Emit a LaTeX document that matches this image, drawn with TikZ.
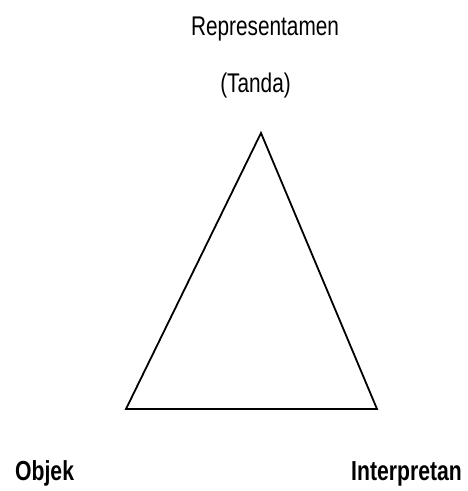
\documentclass[tikz,border=0pt]{standalone}
\usepackage{fontspec}
\setmainfont{Liberation Sans}[FakeStretch=0.77]
\begin{document}
\begin{tikzpicture}[x=1pt,y=1pt,
  lbl/.style={inner sep=0pt,anchor=base,font=\fontsize{27}{30}\selectfont},
  lblb/.style={lbl,font=\fontsize{27.5}{30}\selectfont\bfseries},
  tri/.style={line width=1.8pt,line join=miter}]
\useasboundingbox (0,0) rectangle (467,491);
\coordinate (top) at (261,358);
\coordinate (bl) at (126,82);
\coordinate (br) at (377,82);
\draw[tri] (top) -- (bl) -- (br) -- cycle;
\node[lbl] (rep) at (265,455) {Representamen};
\node[lbl] (tanda) at (255.5,398) {(Tanda)};
\node[lblb,anchor=base west] (obj) at (15,10) {Objek};
\node[lblb,anchor=base east] (int) at (462,10) {Interpretan};
\end{tikzpicture}
\end{document}
